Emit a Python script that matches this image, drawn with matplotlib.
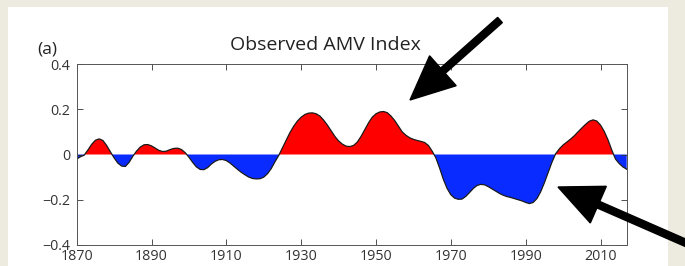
import numpy as np
import matplotlib as mpl

mpl.use('Agg')

import matplotlib.pyplot as plt
from matplotlib.patches import Rectangle, FancyArrow
from matplotlib.transforms import Affine2D

years = np.arange(1870, 2018)
# smoothed AMV index (one value per year)
amv = [
    -0.020, -0.010, -0.003, 0.020, 0.045, 0.063, 0.069, 0.062, 0.040, 0.012,
    -0.015, -0.038, -0.051, -0.053, -0.035, -0.008, 0.015, 0.033, 0.043, 0.044,
    0.038, 0.028, 0.018, 0.013, 0.015, 0.022, 0.027, 0.028, 0.022, 0.008,
    -0.012, -0.035, -0.055, -0.066, -0.067, -0.058, -0.042, -0.030, -0.023, -0.022,
    -0.027, -0.038, -0.052, -0.066, -0.079, -0.090, -0.100, -0.106, -0.108, -0.107,
    -0.100, -0.085, -0.062, -0.032, -0.004, 0.030, 0.065, 0.097, 0.125, 0.148,
    0.165, 0.177, 0.183, 0.184, 0.180, 0.170, 0.152, 0.130, 0.105, 0.080,
    0.060, 0.046, 0.037, 0.035, 0.040, 0.055, 0.080, 0.110, 0.140, 0.165,
    0.180, 0.188, 0.190, 0.185, 0.170, 0.150, 0.125, 0.100, 0.085, 0.074,
    0.067, 0.062, 0.058, 0.053, 0.040, 0.015, -0.015, -0.060, -0.110, -0.150,
    -0.178, -0.193, -0.198, -0.197, -0.185, -0.168, -0.150, -0.137, -0.132, -0.134,
    -0.142, -0.152, -0.162, -0.172, -0.180, -0.186, -0.190, -0.195, -0.200, -0.205,
    -0.212, -0.217, -0.212, -0.195, -0.165, -0.125, -0.080, -0.035, 0.003, 0.025,
    0.042, 0.055, 0.068, 0.083, 0.100, 0.117, 0.133, 0.147, 0.153, 0.148,
    0.130, 0.102, 0.065, 0.020, -0.020, -0.040, -0.055, -0.065,
]
xticks = [1870, 1890, 1910, 1930, 1950, 1970, 1990, 2010]
yticks = [-0.4, -0.2, 0, 0.2, 0.4]
ytick_labels = ['\u22120.4', '\u22120.2', '0', '0.2', '0.4']

plt.rcParams['font.family'] = ['Open Sans', 'DejaVu Sans']

fig = plt.figure(figsize=(6.85, 2.66), dpi=100)
fig.patch.set_facecolor('#edeae0')
W, H = 685.0, 266.0
# figure pixels, origin top-left
px = Affine2D().scale(1, -1).translate(0, H).scale(1 / 100.) + fig.dpi_scale_trans

# white panel behind the plot
fig.patches.append(Rectangle((8, 7), 660, 270, transform=px,
                             facecolor='white', edgecolor='none', zorder=0))

ax = fig.add_axes([76.7 / W, 21 / H, 550 / W, 181 / H])
ax.set_zorder(1)
vals = np.array(amv)
ax.fill_between(years, vals, 0, where=vals >= 0, interpolate=True,
                color='#ff0000', linewidth=0)
ax.fill_between(years, vals, 0, where=vals <= 0, interpolate=True,
                color='#0a2bff', linewidth=0)
ax.plot(years, vals, color='#1a1a1a', linewidth=0.9)

ax.set_xlim(1870, 2017)
ax.set_ylim(-0.4, 0.4)
ax.set_xticks(xticks)
ax.set_yticks(yticks)
ax.set_yticklabels(ytick_labels)
ax.tick_params(direction='in', top=True, right=True, length=4, width=0.6,
               labelsize=10.3, colors='#333333')
ax.tick_params(axis='y', pad=4.5)
ax.tick_params(axis='x', pad=3)
for s in ax.spines.values():
    s.set_linewidth(0.7)
    s.set_color('#555555')

fig.text(325 / W, 1 - 50 / H, 'Observed AMV Index', ha='center',
         va='baseline', fontsize=14, color='#222222')
fig.text(37 / W, 1 - 53 / H, '(a)', ha='left', va='baseline',
         fontsize=12.5, color='#222222')


def arrow(x0, y0, x1, y1):
    """black pointer arrow, given in figure pixels from the top-left"""
    a = FancyArrow(x0, y0, x1 - x0, y1 - y0, width=7, head_width=40,
                   head_length=44, length_includes_head=True,
                   transform=px, color='black', zorder=5)
    fig.patches.append(a)


arrow(500, 20, 410, 100)
arrow(702, 250, 558, 187)

fig.savefig('out.png', dpi=100, facecolor=fig.get_facecolor())
